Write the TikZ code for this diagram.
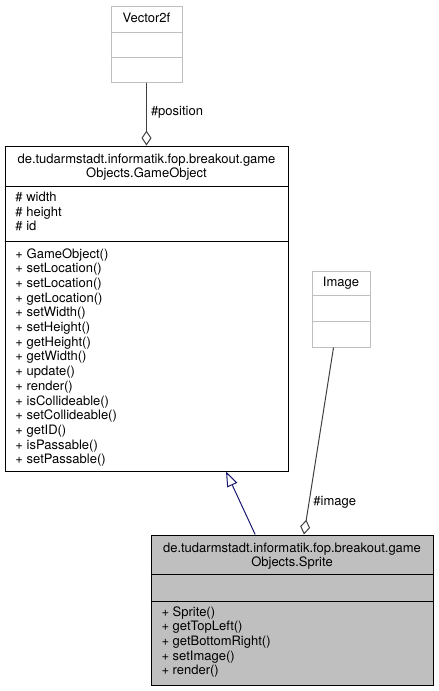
\documentclass[tikz,border=0pt]{standalone}
\usepackage{fontspec}
\setmainfont{TeX Gyre Heros}
\usetikzlibrary{arrows.meta}
\definecolor{navyedge}{HTML}{191970}

\begin{document}
\begin{tikzpicture}[x=1pt, y=-1pt, line width=1pt, font=\fontsize{13}{14}\selectfont]
		\tikzstyle{cls}=[rectangle, draw=black, inner sep=0pt]
		\tikzstyle{undoc}=[cls, draw=black!25]
		\tikzstyle{member}=[inner sep=0pt, anchor=base west]
		\tikzstyle{heading}=[inner sep=0pt, anchor=base]
		\tikzstyle{usage}=[draw=black!75, -{Diamond[open, length=15pt, width=10pt]}]
		\tikzstyle{inherit}=[draw=navyedge, -{Triangle[open, length=15pt, width=11pt]}]
		\useasboundingbox (0,0) rectangle (439,691);
		% Vector2f
		\node[undoc, minimum width=71pt, minimum height=76pt] (vec) at (146.5,44) {};
		\node[heading] (vec_t) at (146.5,22) {Vector2f};
		\draw[black!25] (vec.west |- 0,32) -- (vec.east |- 0,32);
		\draw[black!25] (vec.west |- 0,57) -- (vec.east |- 0,57);
		% Image
		\node[undoc, minimum width=58pt, minimum height=76pt] (img) at (341,309) {};
		\node[heading] (img_t) at (341,286) {Image};
		\draw[black!25] (img.west |- 0,295) -- (img.east |- 0,295);
		\draw[black!25] (img.west |- 0,321) -- (img.east |- 0,321);
		% GameObject
		\node[cls, minimum width=283pt, minimum height=325pt] (go) at (146.5,308.5) {};
		\node[heading] (go_t1) at (146.5,163) {de.tudarmstadt.informatik.fop.breakout.game};
		\node[heading] (go_t2) at (146.5,177) {Objects.GameObject};
		\draw (go.west |- 0,186) -- (go.east |- 0,186);
		\draw (go.west |- 0,241) -- (go.east |- 0,241);
		\foreach \a [count=\i] in {width, height, id}
			\node[member] (go_a\i) at (15,{201.5+14.5*(\i-1)}) {\# \a};
		\foreach \m [count=\i] in {GameObject, setLocation, setLocation, getLocation, setWidth, setHeight, getHeight, getWidth, update, render, isCollideable, setCollideable, getID, isPassable, setPassable}
			\node[member] (go_m\i) at (15,{258+14.7*(\i-1)}) {+ \m()};
		% Sprite
		\node[cls, fill=black!25, minimum width=282pt, minimum height=150pt] (spr) at (292,610) {};
		\node[heading] (spr_t1) at (292,552.5) {de.tudarmstadt.informatik.fop.breakout.game};
		\node[heading] (spr_t2) at (292,566.5) {Objects.Sprite};
		\draw (spr.west |- 0,574) -- (spr.east |- 0,574);
		\draw (spr.west |- 0,601) -- (spr.east |- 0,601);
		\foreach \m [count=\i] in {Sprite, getTopLeft, getBottomRight, setImage, render}
			\node[member] (spr_m\i) at (161,{616+14.7*(\i-1)}) {+ \m()};
		% relations
		\draw[usage] (vec.south) -- node[right, pos=.47, inner sep=4pt] (pos_l) {\#position} (go.north);
		\draw[usage] (img.259.6) -- node[right, pos=.83, inner sep=4pt] (img_l) {\#image} (spr.81.7);
		\draw[inherit] (spr.116.3) -- (go.-64.2);
	\end{tikzpicture}
\end{document}
